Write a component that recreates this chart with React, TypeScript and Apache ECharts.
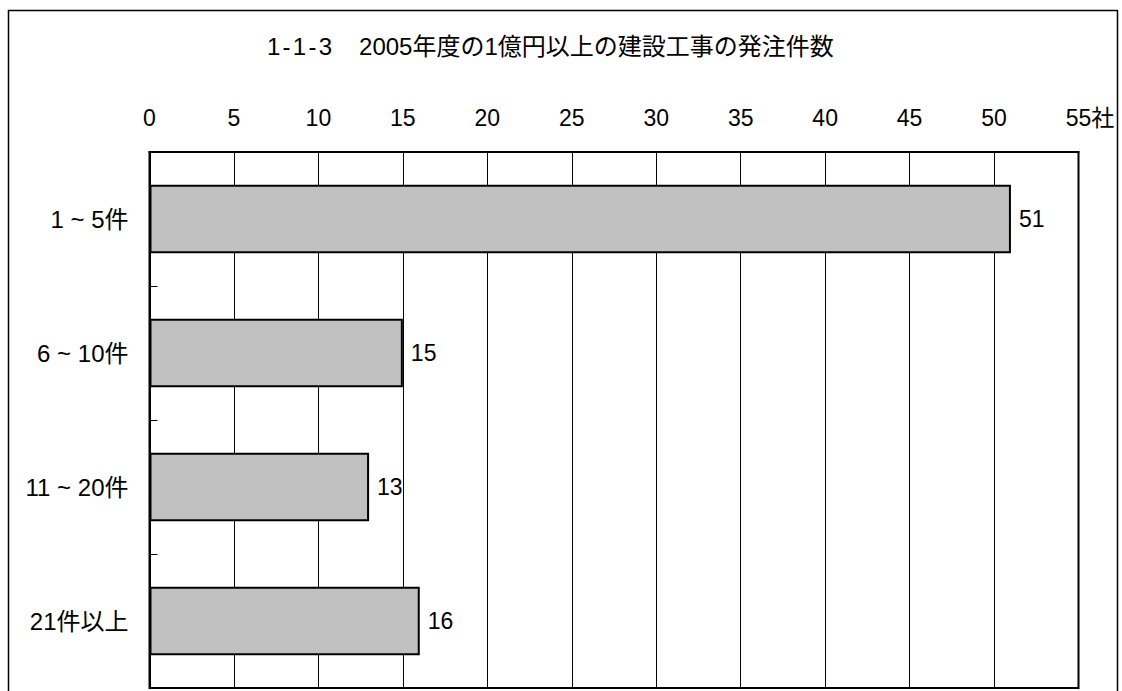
import React, { useEffect, useRef } from "react";
import * as echarts from "echarts";

const titleNumber = ["1", "1", "3"];
const titleText = "2005年度の1億円以上の建設工事の発注件数";
const categories = ["1 ~ 5件", "6 ~ 10件", "11 ~ 20件", "21件以上"];
const companyCounts = [51, 15, 13, 16];
const axisMax = 55;
const axisStep = 5;
const unitLabel = "社";

const FONT = "'Liberation Sans', Arial, 'Noto Sans CJK JP', sans-serif";

// "1-1-3" with spaced hyphens, a wide gap, then the heading itself
const titleRich = titleNumber.map((d) => `{n|${d}}`).join("{h|-}") + "{g|\u3000}" + `{t|${titleText}}`;

export default function App() {
  const ref = useRef<HTMLDivElement>(null);

  useEffect(() => {
    document.body.style.margin = "0";
    const chart = echarts.init(ref.current!, null, { renderer: "svg" });
    const titleStyle = { fontFamily: FONT, fontSize: 24, color: "#000" };
    chart.setOption({
      animation: false,
      backgroundColor: "#fff",
      textStyle: { fontFamily: FONT },
      title: {
        text: titleRich,
        left: 267,
        top: 34,
        padding: 0,
        textStyle: {
          ...titleStyle,
          fontWeight: "normal",
          rich: {
            n: titleStyle,
            h: { ...titleStyle, width: 12.5, align: "center" },
            g: { ...titleStyle, width: 27 },
            t: titleStyle,
          },
        },
      },
      graphic: [
        {
          type: "rect",
          shape: { x: 8.5, y: 10.5, width: 1109, height: 720 },
          style: { fill: "none", stroke: "#000", lineWidth: 1.5 },
          silent: true,
          z: 100,
        },
      ],
      grid: {
        left: 149.5,
        right: 43.5,
        top: 152,
        bottom: 3,
        show: true,
        borderColor: "#000",
        borderWidth: 2,
        backgroundColor: "transparent",
      },
      xAxis: {
        type: "value",
        position: "top",
        min: 0,
        max: axisMax,
        interval: axisStep,
        axisLine: { show: true, lineStyle: { color: "#000", width: 2 } },
        axisTick: { show: false },
        splitLine: { show: true, lineStyle: { color: "#000", width: 1 } },
        axisLabel: {
          margin: 23,
          fontSize: 23,
          color: "#000",
          fontFamily: FONT,
          formatter: (v: number) => (v === axisMax ? `\u3000${v}${unitLabel}` : String(v)),
        },
      },
      yAxis: {
        type: "category",
        inverse: true,
        data: categories,
        axisLine: { show: true, lineStyle: { color: "#000", width: 2 } },
        axisTick: { show: true, inside: true, length: 8, lineStyle: { color: "#000", width: 1 } },
        axisLabel: { margin: 21, fontSize: 24, color: "#000", fontFamily: FONT },
      },
      series: [
        {
          type: "bar",
          data: companyCounts,
          barWidth: "51%",
          itemStyle: { color: "#c0c0c0", borderColor: "#000", borderWidth: 2 },
          label: {
            show: true,
            position: "right",
            distance: 8,
            fontSize: 23,
            color: "#000",
            fontFamily: FONT,
          },
          z: 3,
        },
      ],
    });
    return () => chart.dispose();
  }, []);

  return <div ref={ref} style={{ width: 1122, height: 691 }} />;
}
